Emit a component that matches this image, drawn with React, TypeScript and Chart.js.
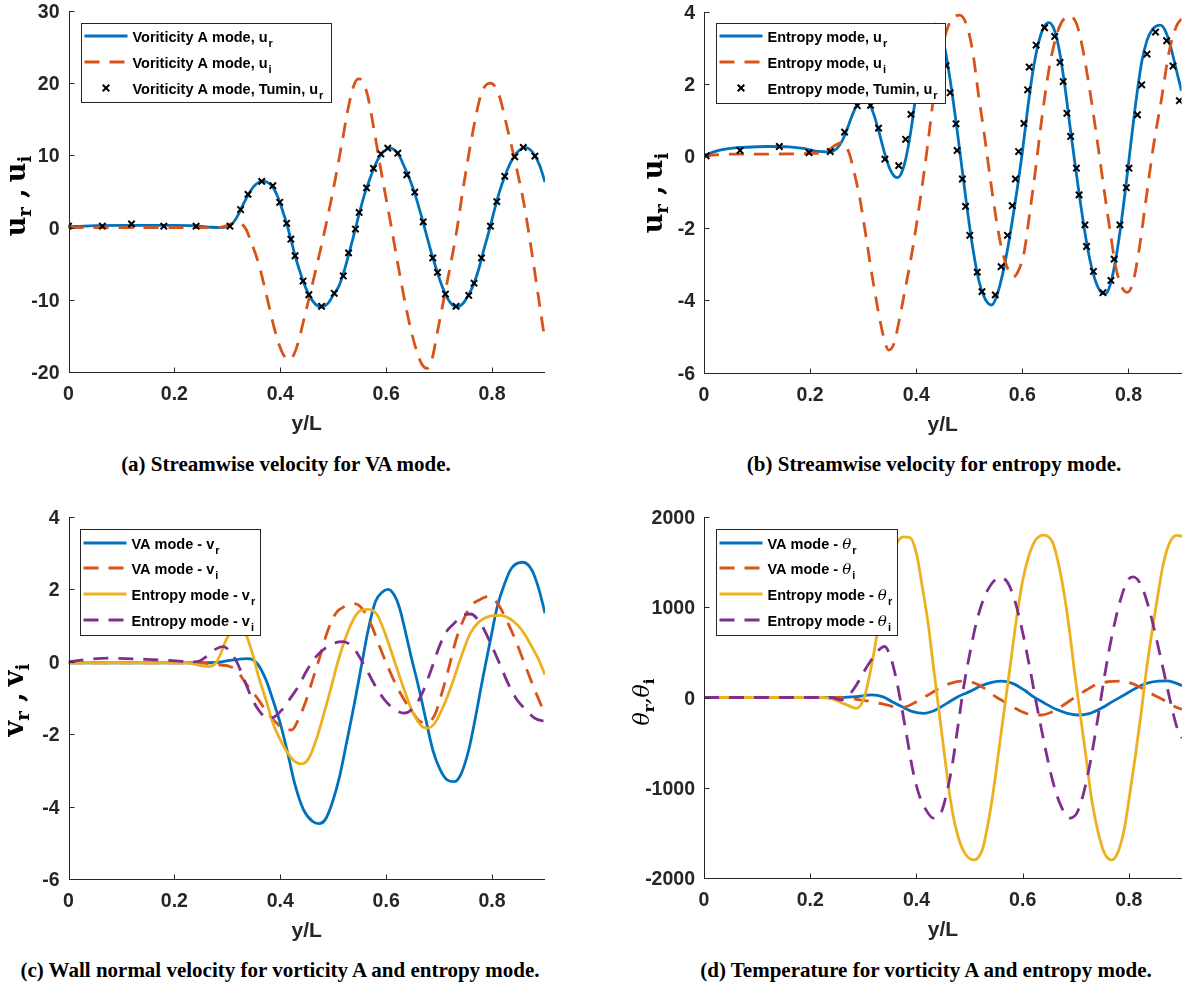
import React, { useEffect, useRef } from "react";
import { Chart, registerables } from "chart.js";

Chart.register(...registerables);

type Pt = [number, number];

const BLUE = "#0072BD";
const ORANGE = "#D95319";
const YELLOW = "#EDB120";
const PURPLE = "#7E2F8E";
const AXIS = "#262626";
const DASH = [15, 10];

// ---------- tick labels ----------
const X_TICKS = [0, 0.2, 0.4, 0.6, 0.8];
const A_Y_TICKS = [-20, -10, 0, 10, 20, 30];
const B_Y_TICKS = [-6, -4, -2, 0, 2, 4];
const C_Y_TICKS = [-6, -4, -2, 0, 2, 4];
const D_Y_TICKS = [-2000, -1000, 0, 1000, 2000];

// ---------- (a) VA mode, streamwise velocity ----------
const A_UR: Pt[] = [
  [0, 0.1], [0.04, 0.25], [0.1, 0.3], [0.15, 0.3], [0.2, 0.3], [0.24, 0.25], [0.27, 0.05], [0.285, 0],
  [0.3, 0.15], [0.31, 0.6], [0.32, 1.7], [0.33, 3.2], [0.34, 4.6], [0.35, 5.7], [0.36, 6.3], [0.367, 6.45],
  [0.375, 6.3], [0.385, 5.7], [0.395, 4.3], [0.405, 2.2], [0.412, 0.6], [0.42, -1.6], [0.428, -3.9],
  [0.435, -5.6], [0.443, -7.4], [0.454, -9.3], [0.465, -10.5], [0.477, -11.0], [0.49, -10.5], [0.502, -9.1],
  [0.51, -8.2], [0.519, -6.4], [0.529, -3.8], [0.54, -0.7], [0.549, 1.9], [0.56, 4.8], [0.57, 6.9],
  [0.58, 8.8], [0.59, 10.1], [0.6, 10.8], [0.607, 11.0], [0.615, 10.8], [0.625, 9.9], [0.635, 8.3],
  [0.645, 6.6], [0.655, 4.5], [0.665, 2.0], [0.675, -0.7], [0.685, -3.4], [0.695, -5.8], [0.705, -8.0],
  [0.715, -9.7], [0.725, -10.7], [0.733, -11.0], [0.745, -10.5], [0.755, -9.4], [0.765, -7.9],
  [0.775, -5.7], [0.785, -2.9], [0.795, -0.3], [0.805, 2.6], [0.815, 5.2], [0.825, 7.3], [0.835, 9.0],
  [0.845, 10.2], [0.855, 10.9], [0.862, 11.1], [0.87, 10.9], [0.88, 10.1], [0.89, 8.6], [0.9, 6.3],
];
const A_UI: Pt[] = [
  [0, 0], [0.1, 0], [0.2, 0], [0.28, 0], [0.3, 0.3], [0.315, 0.7], [0.325, 0.6], [0.335, -0.2],
  [0.345, -2.0], [0.36, -5.2], [0.375, -9.7], [0.39, -14.3], [0.405, -17.5], [0.418, -18.3], [0.43, -16.8],
  [0.447, -12.0], [0.464, -6.8], [0.481, -1.4], [0.498, 4.5], [0.515, 11.1], [0.529, 16.8], [0.54, 19.9],
  [0.548, 20.6], [0.556, 20.2], [0.565, 18.3], [0.576, 14.0], [0.59, 8.0], [0.6, 4.0], [0.61, 0.0],
  [0.62, -4.2], [0.631, -8.6], [0.644, -13.3], [0.658, -17.2], [0.668, -19.0], [0.677, -19.5],
  [0.686, -18.4], [0.698, -14.0], [0.715, -7.6], [0.732, -1.0], [0.746, 5.7], [0.763, 13.0], [0.78, 18.6],
  [0.797, 20.0], [0.812, 18.6], [0.83, 13.4], [0.847, 8.0], [0.861, 3.0], [0.875, -3.4], [0.888, -9.8],
  [0.9, -15.7],
];
const A_TUMIN: Pt[] = [
  [0, 0.2], [0.064, 0.2], [0.119, 0.5], [0.18, 0.2], [0.241, 0.2], [0.305, 0.2], [0.325, 2.5], [0.339, 4.6],
  [0.365, 6.4], [0.386, 5.8], [0.399, 3.5], [0.412, 0.6], [0.42, -1.6], [0.428, -3.9], [0.443, -7.4],
  [0.454, -9.3], [0.478, -10.9], [0.502, -9.1], [0.519, -6.7], [0.529, -3.5], [0.542, -0.2], [0.549, 2.1],
  [0.563, 5.5], [0.576, 8.2], [0.59, 10.2], [0.603, 11.0], [0.622, 10.3], [0.639, 7.3], [0.654, 4.9],
  [0.67, 0.8], [0.688, -4.2], [0.697, -6.2], [0.712, -9.2], [0.732, -10.9], [0.756, -9.4], [0.766, -7.7],
  [0.78, -4.2], [0.797, 0.2], [0.809, 3.6], [0.824, 7.1], [0.843, 9.8], [0.859, 11.1], [0.881, 9.9],
];

// ---------- (b) entropy mode, streamwise velocity ----------
const B_UR: Pt[] = [
  [0, 0], [0.02, 0.12], [0.04, 0.19], [0.08, 0.24], [0.12, 0.26], [0.16, 0.25], [0.19, 0.2], [0.21, 0.13],
  [0.235, 0.11], [0.25, 0.2], [0.26, 0.4], [0.27, 0.75], [0.28, 1.15], [0.29, 1.45], [0.3, 1.6], [0.31, 1.5],
  [0.32, 1.15], [0.33, 0.65], [0.34, 0.1], [0.35, -0.35], [0.36, -0.58], [0.365, -0.6], [0.372, -0.48],
  [0.38, -0.1], [0.39, 0.7], [0.4, 1.75], [0.41, 2.7], [0.42, 3.35], [0.43, 3.62], [0.437, 3.65],
  [0.445, 3.45], [0.455, 2.9], [0.465, 2.0], [0.475, 0.95], [0.485, -0.2], [0.495, -1.35], [0.505, -2.4],
  [0.515, -3.25], [0.525, -3.8], [0.535, -4.08], [0.542, -4.13], [0.55, -3.95], [0.56, -3.45], [0.57, -2.75],
  [0.58, -1.9], [0.59, -0.95], [0.6, 0.1], [0.61, 1.3], [0.62, 2.35], [0.63, 3.1], [0.64, 3.55], [0.65, 3.69],
  [0.66, 3.5], [0.67, 2.9], [0.68, 1.95], [0.69, 0.8], [0.7, -0.3], [0.71, -1.35], [0.72, -2.3], [0.73, -3.05],
  [0.74, -3.55], [0.75, -3.8], [0.757, -3.82], [0.765, -3.6], [0.775, -2.95], [0.785, -2.0], [0.795, -0.85],
  [0.805, 0.4], [0.815, 1.6], [0.825, 2.6], [0.835, 3.2], [0.845, 3.5], [0.86, 3.62], [0.87, 3.45],
  [0.88, 3.0], [0.89, 2.4], [0.9, 1.8],
];
const B_UI: Pt[] = [
  [0, 0], [0.05, 0.05], [0.1, 0.05], [0.2, 0.07], [0.23, 0.12], [0.248, 0.3], [0.262, 0.37], [0.273, 0.1],
  [0.283, -0.45], [0.294, -1.2], [0.304, -2.1], [0.315, -3.15], [0.329, -4.35], [0.34, -5.1], [0.348, -5.38],
  [0.358, -5.2], [0.368, -4.55], [0.379, -3.7], [0.39, -2.85], [0.4, -1.95], [0.411, -0.85], [0.422, 0.35],
  [0.432, 1.55], [0.443, 2.65], [0.454, 3.3], [0.464, 3.72], [0.482, 3.9], [0.496, 3.58], [0.507, 2.84],
  [0.517, 1.74], [0.528, 0.63], [0.539, -0.57], [0.549, -1.59], [0.56, -2.5], [0.571, -3.07], [0.583, -3.35],
  [0.592, -3.2], [0.603, -2.7], [0.613, -1.68], [0.624, -0.48], [0.634, 0.72], [0.645, 1.92], [0.656, 2.84],
  [0.67, 3.58], [0.688, 3.88], [0.702, 3.67], [0.713, 3.03], [0.727, 1.83], [0.741, 0.44], [0.755, -1.03],
  [0.766, -2.14], [0.776, -3.07], [0.787, -3.62], [0.798, -3.78], [0.808, -3.53], [0.819, -2.7],
  [0.833, -1.22], [0.847, 0.26], [0.862, 1.55], [0.876, 2.84], [0.89, 3.58], [0.9, 3.8],
];
const B_TUMIN: Pt[] = [
  [0.004, 0], [0.068, 0.15], [0.142, 0.26], [0.198, 0.09], [0.238, 0.12], [0.265, 0.66], [0.289, 1.39],
  [0.314, 1.4], [0.329, 0.77], [0.341, -0.09], [0.367, -0.27], [0.38, 0.46], [0.39, 1.15], [0.456, 2.5],
  [0.464, 1.75], [0.475, 0.89], [0.477, 0.15], [0.487, -0.64], [0.493, -1.4], [0.501, -2.2], [0.515, -3.22],
  [0.524, -3.76], [0.549, -3.85], [0.56, -3.07], [0.572, -2.2], [0.581, -1.38], [0.587, -0.64], [0.593, 0.12],
  [0.603, 0.9], [0.61, 1.83], [0.613, 2.46], [0.626, 3.07], [0.642, 3.55], [0.661, 3.31], [0.671, 2.59],
  [0.677, 2.06], [0.684, 1.18], [0.691, 0.54], [0.702, -0.34], [0.707, -1.08], [0.718, -1.91], [0.721, -2.51],
  [0.734, -3.2], [0.752, -3.79], [0.767, -3.45], [0.773, -2.86], [0.784, -1.91], [0.796, -0.88],
  [0.801, -0.34], [0.817, 1.14], [0.825, 1.97], [0.835, 2.82], [0.851, 3.43], [0.872, 3.19], [0.884, 2.49],
  [0.896, 1.53],
];

// ---------- (c) wall normal velocity ----------
const C_VA_R: Pt[] = [
  [0, -0.03], [0.1, -0.03], [0.2, -0.03], [0.278, -0.02], [0.305, 0.04], [0.339, 0.09], [0.356, -0.04],
  [0.373, -0.5], [0.386, -1.05], [0.4, -1.7], [0.414, -2.52], [0.427, -3.35], [0.444, -4.09], [0.461, -4.41],
  [0.473, -4.47], [0.485, -4.36], [0.498, -3.9], [0.512, -3.17], [0.525, -2.25], [0.539, -1.23],
  [0.553, -0.13], [0.566, 0.88], [0.58, 1.67], [0.593, 1.93], [0.604, 2.0], [0.615, 1.85], [0.625, 1.5],
  [0.634, 0.98], [0.647, 0.15], [0.661, -0.68], [0.675, -1.6], [0.688, -2.43], [0.702, -2.98], [0.715, -3.26],
  [0.729, -3.31], [0.742, -3.08], [0.756, -2.43], [0.769, -1.51], [0.783, -0.41], [0.797, 0.61], [0.81, 1.53],
  [0.824, 2.17], [0.837, 2.59], [0.858, 2.75], [0.875, 2.54], [0.888, 2.03], [0.9, 1.34],
];
const C_VA_I: Pt[] = [
  [0, -0.03], [0.1, -0.03], [0.2, -0.03], [0.251, -0.03], [0.278, -0.08], [0.305, -0.13], [0.319, -0.27],
  [0.339, -0.68], [0.359, -1.05], [0.376, -1.42], [0.393, -1.69], [0.41, -1.88], [0.422, -1.88],
  [0.434, -1.6], [0.447, -1.14], [0.461, -0.5], [0.475, 0.15], [0.488, 0.79], [0.505, 1.34], [0.522, 1.53],
  [0.542, 1.6], [0.556, 1.44], [0.573, 0.98], [0.59, 0.33], [0.603, -0.13], [0.617, -0.59], [0.634, -1.05],
  [0.651, -1.42], [0.664, -1.65], [0.678, -1.68], [0.692, -1.46], [0.705, -0.87], [0.719, -0.13],
  [0.732, 0.61], [0.746, 1.16], [0.759, 1.53], [0.776, 1.71], [0.793, 1.8], [0.81, 1.62], [0.827, 1.16],
  [0.844, 0.61], [0.861, -0.04], [0.878, -0.68], [0.9, -1.46],
];
const C_EN_R: Pt[] = [
  [0, -0.03], [0.1, -0.03], [0.2, -0.03], [0.224, -0.03], [0.251, -0.11], [0.264, -0.13], [0.278, -0.04],
  [0.288, 0.24], [0.298, 0.61], [0.31, 0.88], [0.32, 1.0], [0.329, 0.95], [0.339, 0.61], [0.349, 0.15],
  [0.359, -0.41], [0.373, -1.05], [0.386, -1.69], [0.4, -2.15], [0.414, -2.52], [0.427, -2.75],
  [0.441, -2.82], [0.454, -2.66], [0.468, -2.15], [0.481, -1.51], [0.495, -0.77], [0.508, -0.04],
  [0.522, 0.61], [0.536, 1.11], [0.549, 1.39], [0.566, 1.45], [0.583, 1.3], [0.6, 0.7], [0.617, -0.04],
  [0.634, -0.77], [0.651, -1.42], [0.668, -1.79], [0.678, -1.83], [0.692, -1.69], [0.708, -1.23],
  [0.725, -0.59], [0.742, 0.15], [0.759, 0.79], [0.776, 1.11], [0.793, 1.25], [0.815, 1.28], [0.841, 1.11],
  [0.858, 0.84], [0.875, 0.42], [0.888, 0.06], [0.9, -0.36],
];
const C_EN_I: Pt[] = [
  [0, 0], [0.04, 0.07], [0.075, 0.1], [0.108, 0.09], [0.156, 0.06], [0.197, 0.03], [0.231, 0], [0.247, 0.02],
  [0.261, 0.15], [0.278, 0.35], [0.292, 0.42], [0.305, 0.29], [0.319, -0.04], [0.332, -0.5], [0.346, -1.0],
  [0.359, -1.33], [0.376, -1.56], [0.39, -1.51], [0.403, -1.33], [0.417, -1.05], [0.434, -0.68],
  [0.451, -0.22], [0.468, 0.15], [0.485, 0.38], [0.502, 0.52], [0.519, 0.56], [0.536, 0.42], [0.549, 0.15],
  [0.563, -0.22], [0.58, -0.68], [0.597, -1.05], [0.617, -1.33], [0.634, -1.42], [0.651, -1.28],
  [0.668, -0.87], [0.685, -0.22], [0.698, 0.33], [0.712, 0.79], [0.729, 1.07], [0.746, 1.3], [0.759, 1.32],
  [0.78, 1.02], [0.797, 0.52], [0.814, -0.04], [0.83, -0.59], [0.847, -1.05], [0.864, -1.33], [0.881, -1.56],
  [0.9, -1.65],
];

// ---------- (d) temperature ----------
const D_VA_R: Pt[] = [
  [0, 0], [0.258, 0], [0.287, 9], [0.315, 28], [0.336, 10], [0.354, -46], [0.372, -101], [0.393, -157],
  [0.414, -175], [0.436, -138], [0.457, -65], [0.478, 9], [0.5, 65], [0.521, 127], [0.542, 168], [0.56, 182],
  [0.581, 157], [0.603, 83], [0.62, 9], [0.642, -65], [0.663, -131], [0.684, -175], [0.705, -194],
  [0.727, -175], [0.748, -120], [0.769, -46], [0.791, 28], [0.812, 101], [0.833, 157], [0.855, 182],
  [0.872, 185], [0.886, 164], [0.9, 131],
];
const D_VA_I: Pt[] = [
  [0, 0], [0.258, 0], [0.287, -20], [0.315, -46], [0.344, -83], [0.365, -109], [0.379, -105], [0.4, -46],
  [0.422, 28], [0.443, 101], [0.464, 157], [0.486, 182], [0.507, 164], [0.528, 101], [0.549, 9], [0.571, -65],
  [0.592, -138], [0.613, -186], [0.634, -194], [0.656, -157], [0.677, -83], [0.698, 0], [0.72, 83],
  [0.741, 149], [0.762, 175], [0.784, 182], [0.805, 157], [0.826, 101], [0.847, 28], [0.869, -39],
  [0.886, -101], [0.9, -131],
];
const D_EN_R: Pt[] = [
  [0, 0], [0.223, 0], [0.244, -20], [0.262, -65], [0.28, -109], [0.287, -120], [0.297, -65], [0.304, 46],
  [0.315, 341], [0.326, 710], [0.336, 1115], [0.347, 1447], [0.361, 1687], [0.375, 1779], [0.388, 1771],
  [0.4, 1594], [0.411, 1226], [0.422, 820], [0.432, 341], [0.443, -175], [0.454, -691], [0.464, -1134],
  [0.475, -1466], [0.489, -1705], [0.508, -1800], [0.524, -1687], [0.535, -1392], [0.546, -986],
  [0.556, -544], [0.567, -65], [0.578, 415], [0.588, 857], [0.599, 1263], [0.61, 1539], [0.624, 1742],
  [0.64, 1800], [0.656, 1724], [0.666, 1521], [0.677, 1189], [0.688, 747], [0.698, 267], [0.709, -212],
  [0.72, -691], [0.73, -1134], [0.741, -1466], [0.754, -1724], [0.768, -1800], [0.78, -1705],
  [0.791, -1466], [0.801, -1097], [0.812, -654], [0.823, -175], [0.833, 304], [0.844, 747], [0.855, 1152],
  [0.865, 1484], [0.876, 1705], [0.89, 1797], [0.9, 1786],
];
const D_EN_I: Pt[] = [
  [0, 0], [0.24, 0], [0.258, -28], [0.273, 28], [0.287, 138], [0.301, 286], [0.315, 415], [0.329, 525],
  [0.34, 565], [0.351, 452], [0.361, 230], [0.372, -101], [0.383, -470], [0.393, -802], [0.404, -1060],
  [0.418, -1245], [0.432, -1337], [0.446, -1281], [0.457, -1060], [0.468, -728], [0.478, -323], [0.489, 120],
  [0.503, 562], [0.514, 857], [0.528, 1115], [0.542, 1263], [0.556, 1329], [0.571, 1281], [0.585, 1078],
  [0.599, 747], [0.613, 341], [0.627, -101], [0.642, -544], [0.656, -913], [0.67, -1171], [0.688, -1337],
  [0.702, -1281], [0.713, -1097], [0.727, -728], [0.741, -249], [0.755, 267], [0.769, 710], [0.784, 1078],
  [0.798, 1300], [0.808, 1337], [0.823, 1245], [0.837, 1005], [0.851, 673], [0.865, 304], [0.879, -65],
  [0.89, -323], [0.9, -452],
];

// ---------- captions ----------
const CAPTIONS = [
  { text: "(a) Streamwise velocity for VA mode.", cx: 286, cy: 464 },
  { text: "(b) Streamwise velocity for entropy mode.", cx: 934, cy: 464 },
  { text: "(c) Wall normal velocity for vorticity A and entropy mode.", cx: 280, cy: 970 },
  { text: "(d) Temperature for vorticity A and entropy mode.", cx: 926, cy: 970 },
];

// ---------- specs ----------
type Kind = "solid" | "dash" | "marker";
interface Series { data: Pt[]; color: string; kind: Kind; label: string; sym?: string; sub: string }
interface Part { t: string; f: string; dy: number }
interface PanelSpec {
  key: string;
  cv: { l: number; t: number; w: number; h: number };
  area: { l: number; t: number; r: number; b: number };
  yTicks: number[];
  yTitle: { parts: Part[]; cx: number; cy: number; xh: number };
  legend: { l: number; t: number; r: number; b: number; rows: number[] };
  series: Series[];
}

const YT_MAIN = 'bold 27px "DejaVu Serif"';
const YT_SUB = 'bold 18px "DejaVu Serif"';
const TH_MAIN = 'italic 22px "DejaVu Serif"';
const TH_SUB = 'bold 15px "DejaVu Serif"';

const serifTitle = (ch: string): Part[] => [
  { t: ch, f: YT_MAIN, dy: 0 },
  { t: "r", f: YT_SUB, dy: 6 },
  { t: " ,", f: YT_MAIN, dy: 0 },
  { t: " ", f: YT_SUB, dy: 0 },
  { t: ch, f: YT_MAIN, dy: 0 },
  { t: "i", f: YT_SUB, dy: 6 },
];
const thetaTitle: Part[] = [
  { t: "θ", f: TH_MAIN, dy: 0 },
  { t: "r", f: TH_SUB, dy: 5 },
  { t: ",", f: TH_MAIN, dy: 0 },
  { t: "θ", f: TH_MAIN, dy: 0 },
  { t: "i", f: TH_SUB, dy: 5 },
];

const SPEC_A: PanelSpec = {
  key: "a",
  cv: { l: 0, t: 0, w: 594, h: 445 },
  area: { l: 68.5, t: 11, r: 545, b: 372 },
  yTicks: A_Y_TICKS,
  yTitle: { parts: serifTitle("u"), cx: 17.5, cy: 196, xh: 14 },
  legend: { l: 81, t: 23, r: 331, b: 102, rows: [36, 62, 88] },
  series: [
    { data: A_UR, color: BLUE, kind: "solid", label: "Voriticity A mode, u", sub: "r" },
    { data: A_UI, color: ORANGE, kind: "dash", label: "Voriticity A mode, u", sub: "i" },
    { data: A_TUMIN, color: "#000", kind: "marker", label: "Voriticity A mode, Tumin, u", sub: "r" },
  ],
};
const SPEC_B: PanelSpec = {
  key: "b",
  cv: { l: 594, t: 0, w: 594, h: 445 },
  area: { l: 704, t: 11.5, r: 1182, b: 372.5 },
  yTicks: B_Y_TICKS,
  yTitle: { parts: serifTitle("u"), cx: 655, cy: 193, xh: 14 },
  legend: { l: 716, t: 23, r: 945, b: 103, rows: [36, 62, 88] },
  series: [
    { data: B_UR, color: BLUE, kind: "solid", label: "Entropy mode, u", sub: "r" },
    { data: B_UI, color: ORANGE, kind: "dash", label: "Entropy mode, u", sub: "i" },
    { data: B_TUMIN, color: "#000", kind: "marker", label: "Entropy mode, Tumin, u", sub: "r" },
  ],
};
const SPEC_C: PanelSpec = {
  key: "c",
  cv: { l: 0, t: 480, w: 594, h: 470 },
  area: { l: 68.5, t: 517, r: 545, b: 879 },
  yTicks: C_Y_TICKS,
  yTitle: { parts: serifTitle("v"), cx: 16, cy: 700, xh: 14 },
  legend: { l: 80, t: 529, r: 260, b: 635, rows: [543, 568, 594, 620] },
  series: [
    { data: C_VA_R, color: BLUE, kind: "solid", label: "VA mode - v", sub: "r" },
    { data: C_VA_I, color: ORANGE, kind: "dash", label: "VA mode - v", sub: "i" },
    { data: C_EN_R, color: YELLOW, kind: "solid", label: "Entropy mode - v", sub: "r" },
    { data: C_EN_I, color: PURPLE, kind: "dash", label: "Entropy mode - v", sub: "i" },
  ],
};
const SPEC_D: PanelSpec = {
  key: "d",
  cv: { l: 594, t: 480, w: 594, h: 470 },
  area: { l: 704, t: 517, r: 1182, b: 878 },
  yTicks: D_Y_TICKS,
  yTitle: { parts: thetaTitle, cx: 643, cy: 702, xh: 12 },
  legend: { l: 716, t: 529, r: 897, b: 635, rows: [543, 568, 594, 620] },
  series: [
    { data: D_VA_R, color: BLUE, kind: "solid", label: "VA mode - ", sym: "θ", sub: "r" },
    { data: D_VA_I, color: ORANGE, kind: "dash", label: "VA mode - ", sym: "θ", sub: "i" },
    { data: D_EN_R, color: YELLOW, kind: "solid", label: "Entropy mode - ", sym: "θ", sub: "r" },
    { data: D_EN_I, color: PURPLE, kind: "dash", label: "Entropy mode - ", sym: "θ", sub: "i" },
  ],
};
const SPECS = [SPEC_A, SPEC_B, SPEC_C, SPEC_D];

const TICK_FONT = 'bold 19.5px "Liberation Sans"';
const LEG_FONT = 'bold 14.5px "Liberation Sans"';
const LEG_SUB = 'bold 11px "Liberation Sans"';
const LEG_SYM = 'italic 15px "DejaVu Serif"';

function drawCross(ctx: CanvasRenderingContext2D, x: number, y: number, r: number) {
  ctx.beginPath();
  ctx.moveTo(x - r, y - r);
  ctx.lineTo(x + r, y + r);
  ctx.moveTo(x - r, y + r);
  ctx.lineTo(x + r, y - r);
  ctx.stroke();
}

function decor(spec: PanelSpec) {
  return {
    id: "decor_" + spec.key,
    afterDraw(chart: any) {
      const ctx = chart.ctx as CanvasRenderingContext2D;
      const xs = chart.scales.x;
      const ys = chart.scales.y;
      const { left, right, top, bottom } = chart.chartArea;
      const ox = spec.cv.l;
      const oy = spec.cv.t;
      ctx.save();
      ctx.setLineDash([]);
      // axes
      ctx.strokeStyle = AXIS;
      ctx.lineWidth = 1;
      const L = Math.round(left) + 0.5;
      const B = Math.round(bottom) + 0.5;
      ctx.beginPath();
      ctx.moveTo(L, Math.round(top));
      ctx.lineTo(L, B);
      ctx.lineTo(Math.round(right), B);
      ctx.stroke();
      ctx.beginPath();
      X_TICKS.forEach((v) => {
        const p = Math.round(xs.getPixelForValue(v)) + 0.5;
        ctx.moveTo(p, B);
        ctx.lineTo(p, B - 5);
      });
      spec.yTicks.forEach((v) => {
        const p = Math.round(ys.getPixelForValue(v)) + 0.5;
        ctx.moveTo(L, p);
        ctx.lineTo(L + 5, p);
      });
      ctx.stroke();
      // tick labels
      ctx.fillStyle = AXIS;
      ctx.font = TICK_FONT;
      ctx.textBaseline = "alphabetic";
      ctx.textAlign = "center";
      X_TICKS.forEach((v) => ctx.fillText(String(v), xs.getPixelForValue(v), bottom + 28));
      ctx.textAlign = "right";
      spec.yTicks.forEach((v) => ctx.fillText(String(v), left - 9, ys.getPixelForValue(v) + 7));
      // x title
      ctx.font = 'bold 21px "Liberation Sans"';
      ctx.textAlign = "center";
      ctx.fillText("y/L", (left + right) / 2, bottom + 58);
      // y title (rotated, with subscripts)
      const yt = spec.yTitle;
      ctx.save();
      ctx.translate(yt.cx - ox, yt.cy - oy);
      ctx.rotate(-Math.PI / 2);
      ctx.textAlign = "left";
      let W = 0;
      yt.parts.forEach((p) => {
        ctx.font = p.f;
        W += ctx.measureText(p.t).width;
      });
      let px = -W / 2;
      ctx.fillStyle = "#000";
      yt.parts.forEach((p) => {
        ctx.font = p.f;
        ctx.fillText(p.t, px, yt.xh / 2 + p.dy);
        px += ctx.measureText(p.t).width;
      });
      ctx.restore();
      // legend
      const lg = spec.legend;
      const bx = Math.round(lg.l - ox) + 0.5;
      const by = Math.round(lg.t - oy) + 0.5;
      const bw = Math.round(lg.r - lg.l);
      const bh = Math.round(lg.b - lg.t);
      ctx.fillStyle = "#fff";
      ctx.fillRect(bx, by, bw, bh);
      ctx.strokeStyle = AXIS;
      ctx.lineWidth = 1;
      ctx.strokeRect(bx, by, bw, bh);
      spec.series.forEach((s, i) => {
        const ry = lg.rows[i] - oy;
        const x0 = bx + 3;
        const x1 = bx + 46;
        if (s.kind === "marker") {
          ctx.strokeStyle = "#000";
          ctx.lineWidth = 2;
          drawCross(ctx, (x0 + x1) / 2, ry, 3.3);
        } else {
          ctx.strokeStyle = s.color;
          ctx.lineWidth = 2.8;
          ctx.setLineDash(s.kind === "dash" ? DASH : []);
          ctx.beginPath();
          ctx.moveTo(x0, ry);
          ctx.lineTo(x1, ry);
          ctx.stroke();
          ctx.setLineDash([]);
        }
        let tx = bx + 51;
        ctx.fillStyle = "#000";
        ctx.textAlign = "left";
        ctx.font = LEG_FONT;
        ctx.fillText(s.label, tx, ry + 5.5);
        tx += ctx.measureText(s.label).width;
        if (s.sym) {
          ctx.font = LEG_SYM;
          ctx.fillText(s.sym, tx, ry + 5.5);
          tx += ctx.measureText(s.sym).width;
        }
        ctx.font = LEG_SUB;
        ctx.fillText(s.sub, tx + 1, ry + 11);
      });
      ctx.restore();
    },
  };
}

function Panel({ spec }: { spec: PanelSpec }) {
  const ref = useRef<HTMLCanvasElement>(null);
  useEffect(() => {
    const canvas = ref.current;
    if (!canvas) return;
    const { cv, area } = spec;
    const n = spec.series.length;
    const datasets: any[] = spec.series.map((s, i) => {
      const base = {
        label: s.label + (s.sym || "") + s.sub,
        data: s.data.map(([x, y]) => ({ x, y })),
        order: n - 1 - i,
      };
      if (s.kind === "marker") {
        return {
          ...base,
          showLine: false,
          pointStyle: "crossRot",
          pointRadius: 4.5,
          pointBorderWidth: 2,
          pointBorderColor: "#000",
          pointBackgroundColor: "#000",
          borderColor: "#000",
          backgroundColor: "#000",
        };
      }
      return {
        ...base,
        showLine: true,
        pointRadius: 0,
        borderColor: s.color,
        backgroundColor: s.color,
        borderWidth: 2.8,
        borderDash: s.kind === "dash" ? DASH : [],
        cubicInterpolationMode: "monotone",
        fill: false,
      };
    });
    const chart = new Chart(canvas, {
      type: "line",
      data: { datasets },
      options: {
        responsive: false,
        animation: false,
        devicePixelRatio: 1,
        events: [],
        layout: {
          padding: {
            left: area.l - cv.l,
            top: area.t - cv.t,
            right: cv.l + cv.w - area.r,
            bottom: cv.t + cv.h - area.b,
          },
        },
        scales: {
          x: { type: "linear", display: false, min: 0, max: 0.9 },
          y: {
            type: "linear",
            display: false,
            min: spec.yTicks[0],
            max: spec.yTicks[spec.yTicks.length - 1],
          },
        },
        plugins: { legend: { display: false }, tooltip: { enabled: false } },
      } as any,
      plugins: [decor(spec)],
    });
    return () => chart.destroy();
  }, [spec]);
  return (
    <canvas
      ref={ref}
      width={spec.cv.w}
      height={spec.cv.h}
      style={{
        position: "absolute",
        left: spec.cv.l,
        top: spec.cv.t,
        width: spec.cv.w,
        height: spec.cv.h,
      }}
    />
  );
}

export default function App() {
  return (
    <div
      style={{
        position: "absolute",
        left: 0,
        top: 0,
        width: 1188,
        height: 989,
        background: "#fff",
        overflow: "hidden",
      }}
    >
      {SPECS.map((s) => (
        <Panel key={s.key} spec={s} />
      ))}
      {CAPTIONS.map((c) => (
        <div
          key={c.text}
          style={{
            position: "absolute",
            left: c.cx - 320,
            width: 640,
            top: c.cy - 12,
            height: 24,
            lineHeight: "24px",
            textAlign: "center",
            whiteSpace: "nowrap",
            font: 'bold 21px "Liberation Serif"',
            color: "#000",
          }}
        >
          {c.text}
        </div>
      ))}
    </div>
  );
}
